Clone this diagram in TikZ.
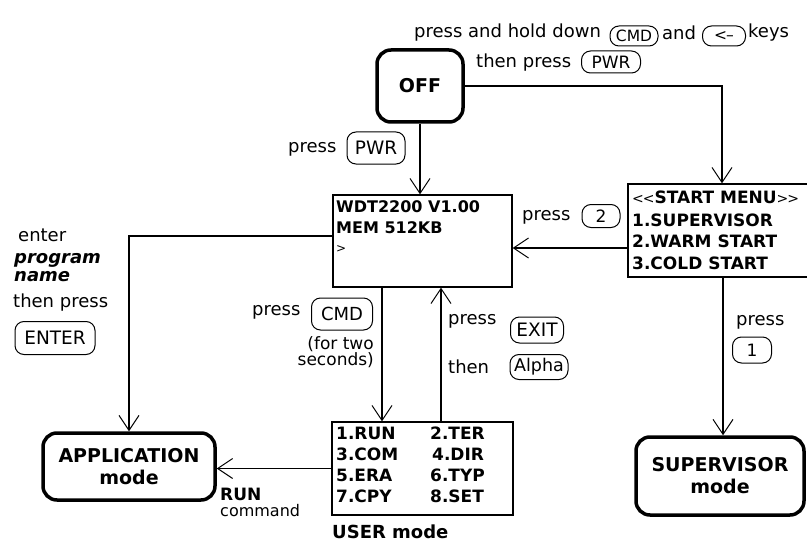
\documentclass[tikz,border=0pt]{standalone}
\usepackage{fontspec}
\setmainfont{DejaVu Sans}
\usetikzlibrary{arrows.meta,calc}
\begin{document}
\begin{tikzpicture}[x=1pt,y=-1pt,
  lbl/.style={font=\fontsize{18}{20}\selectfont, inner sep=0pt},
  keyo/.style={draw, line width=1pt, rounded corners=9pt, inner sep=0pt, font=\fontsize{15.5}{16}\selectfont},
  modebox/.style={draw, line width=3.5pt, rounded corners=14pt, align=center, font=\bfseries\fontsize{19}{22}\selectfont},
  screen/.style={draw, line width=1.3pt, inner sep=0pt},
  scr/.style={inner sep=0pt, font=\bfseries\fontsize{17}{20}\selectfont},
  conn/.style={line width=1.1pt, -{Straight Barb[length=15pt,width=20pt,line width=1pt]}}
]
\useasboundingbox (0,0) rectangle (807,543);

% main boxes
\node[modebox, minimum width=86pt, minimum height=72pt] (off) at (420,86) {OFF};
\node[screen, minimum width=179pt, minimum height=92pt] (wdt) at (422.5,241) {};
\node[screen, minimum width=188pt, minimum height=93pt] (start) at (722,230.5) {};
\node[modebox, minimum width=172pt, minimum height=67pt] (app) at (129,466.5) {APPLICATION\\mode};
\node[screen, minimum width=181pt, minimum height=93pt] (user) at (422.5,468.5) {};
\node[modebox, minimum width=168pt, minimum height=78pt] (sup) at (720,476) {SUPERVISOR\\mode};

% screen texts
\node[scr, anchor=west, font=\bfseries\fontsize{16}{18}\selectfont] (w1) at (336,207) {WDT2200 V1.00};
\node[scr, anchor=west, font=\bfseries\fontsize{16}{18}\selectfont] (w2) at (336,228) {MEM 512KB};
\node[scr, anchor=west, font=\fontsize{12}{14}\selectfont] (w3) at (336,249) {\textgreater};

\node[scr, anchor=west] (s1) at (632,197) {{\mdseries\fontsize{14}{14}\selectfont{<}\kern-1pt{<}}START MENU{\mdseries\fontsize{14}{14}\selectfont{>}\kern-1pt{>}}};
\node[scr, anchor=west] (s2) at (632,220) {1.SUPERVISOR};
\node[scr, anchor=west] (s3) at (632,241) {2.WARM START};
\node[scr, anchor=west] (s4) at (632,263) {3.COLD START};

\node[scr, anchor=west] (u1) at (336,433) {1.RUN};
\node[scr, anchor=west] (u3) at (336,454) {3.COM};
\node[scr, anchor=west] (u5) at (336,475) {5.ERA};
\node[scr, anchor=west] (u7) at (336,496) {7.CPY};
\node[scr, anchor=west] (u2) at (430,433) {2.TER};
\node[scr, anchor=west] (u4) at (432,454) {4.DIR};
\node[scr, anchor=west] (u6) at (430,475) {6.TYP};
\node[scr, anchor=west] (u8) at (430,496) {8.SET};
\node[scr, anchor=base west, font=\bfseries\fontsize{18}{20}\selectfont] (um) at (332,538) {USER mode};

% connectors
\draw[conn] (off.east) -| (start.north);
\draw[conn] (off.south) -- (off.south |- wdt.north);
\draw[conn] ([yshift=-17.5pt]start.west) -- ([yshift=-17.5pt]start.west -| wdt.east);
\draw[conn] ([yshift=5pt]wdt.west) -| (app.north);
\draw[conn] ([xshift=-40.5pt]wdt.south) -- ([xshift=-40.5pt]wdt.south |- user.north);
\draw[conn] ([xshift=18.5pt]user.north) -- ([xshift=18.5pt]user.north |- wdt.south);
\draw[conn] (user.west) -- (user.west -| app.east);
\draw[conn] ([xshift=3pt]sup.north |- start.south) -- ([xshift=3pt]sup.north);

% top labels
\node[lbl, anchor=west] (t1) at (414,33) {press and hold down};
\node[keyo, minimum width=48pt, minimum height=20pt] (kcmd1) at (634,36) {CMD};
\node[lbl, anchor=west] (t2) at (662,33) {and};
\node[keyo, minimum width=43pt, minimum height=20pt] (karr) at (724,36) {\textless\kern-1pt--};
\node[lbl, anchor=west] (t3) at (748,33) {keys};
\node[lbl, anchor=west] (t4) at (476,63) {then press};
\node[keyo, minimum width=59pt, minimum height=22pt, font=\fontsize{17}{18}\selectfont] (kpwr1) at (611,62) {PWR};

% press PWR
\node[lbl, anchor=west] (p1) at (288,149) {press};
\node[keyo, minimum width=58pt, minimum height=32pt, font=\fontsize{18.5}{20}\selectfont] (kpwr2) at (376,148) {PWR};

% press 2
\node[lbl, anchor=west] (p2) at (522,217) {press};
\node[keyo, minimum width=38pt, minimum height=23pt, font=\fontsize{17}{18}\selectfont] (k2) at (601,216) {2};

% left labels
\node[lbl, anchor=west] (e1) at (18,235) {enter};
\node[lbl, anchor=west, font=\bfseries\itshape\fontsize{18}{20}\selectfont] (e2) at (14,260) {program};
\node[lbl, anchor=west, font=\bfseries\itshape\fontsize{18}{20}\selectfont] (e3) at (14,277) {name};
\node[lbl, anchor=west] (e4) at (13,303) {then press};
\node[keyo, minimum width=80pt, minimum height=33pt, font=\fontsize{18.5}{20}\selectfont] (kent) at (55,338) {ENTER};

% press CMD
\node[lbl, anchor=west] (p3) at (252,312) {press};
\node[keyo, minimum width=61pt, minimum height=32pt, font=\fontsize{18}{20}\selectfont] (kcmd2) at (342,314) {CMD};
\node[lbl, anchor=east, align=right, font=\fontsize{17}{15}\selectfont] (p4) at (374,352) {(for two\\seconds)};

% press EXIT then Alpha
\node[lbl, anchor=west] (p5) at (448,321) {press};
\node[keyo, minimum width=53pt, minimum height=26pt, font=\fontsize{18.5}{20}\selectfont] (kexit) at (537,330) {EXIT};
\node[lbl, anchor=west] (p6) at (448,367) {then};
\node[keyo, minimum width=58pt, minimum height=25pt, font=\fontsize{17.5}{20}\selectfont] (kalpha) at (539,367) {Alpha};

% RUN command
\node[lbl, anchor=west, font=\bfseries\fontsize{17}{20}\selectfont] (r1) at (220,494) {RUN};
\node[lbl, anchor=west, font=\fontsize{16}{18}\selectfont] (r2) at (220,511) {command};

% press 1
\node[lbl, anchor=west] (p7) at (736,322) {press};
\node[keyo, minimum width=39pt, minimum height=26pt, font=\fontsize{17}{18}\selectfont] (k1) at (752,350) {1};
\end{tikzpicture}
\end{document}
